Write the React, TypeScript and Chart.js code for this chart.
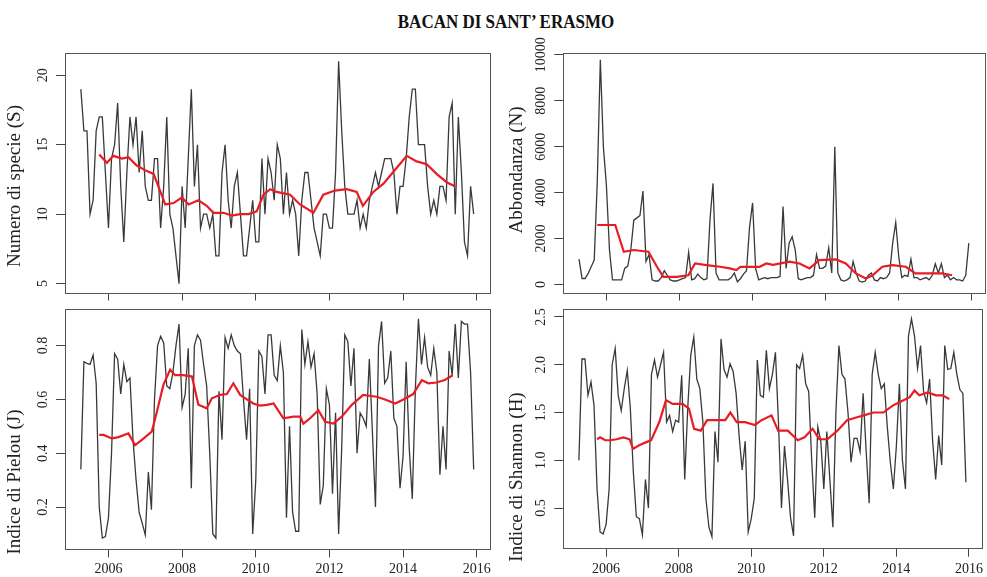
import React, { useEffect, useRef } from "react";
import { Chart, registerables } from "chart.js";

Chart.register(...registerables);

// Monthly samples, April 2005 .. December 2015
const FIRST_YEAR = 2005;
const FIRST_MONTH = 4;
const YEAR_TICKS = [2006, 2008, 2010, 2012, 2014, 2016];

const speciesS = [
  19, 16, 16, 10, 11, 16, 17, 17, 13, 9, 14, 15, 18, 12, 8, 13, 17, 15, 17, 13,
  16, 12, 11, 11, 14, 14, 9, 12, 17, 10, 9, 7, 5, 12, 9, 14, 19, 12, 15, 9,
  10, 10, 9, 10, 7, 7, 13, 15, 11, 9, 12, 13, 10, 7, 7, 9, 11, 8, 8, 14,
  10, 14, 13, 11, 15, 14, 10, 13, 10, 11, 10, 7, 11, 13, 13, 11, 9, 8, 7, 10,
  10, 9, 9, 13, 21, 16, 12, 10, 10, 10, 11, 9, 10, 9, 11, 12, 13, 12, 13, 14,
  14, 14, 13, 10, 12, 12, 14, 17, 19, 19, 15, 15, 15, 12, 10, 11, 10, 12, 12, 11,
  17, 18, 10, 17, 13, 8, 7, 12, 10,
];

const abundanceN = [
  1100, 260, 260, 480, 770, 1060, 4500, 9785, 6000, 4300, 1500, 200, 200, 200, 200, 700, 800, 1500, 2800, 2900,
  3000, 4070, 1000, 1300, 200, 150, 150, 300, 600, 400, 200, 150, 150, 200, 250, 300, 1400, 200, 250, 450,
  300, 200, 250, 2800, 4400, 500, 200, 200, 200, 200, 300, 500, 120, 250, 450, 600, 2500, 3550, 700, 200,
  250, 300, 250, 300, 300, 300, 350, 3390, 700, 1800, 2080, 1500, 250, 200, 250, 300, 300, 400, 1300, 700,
  700, 800, 1600, 500, 6000, 500, 200, 150, 200, 300, 1000, 500, 150, 100, 150, 400, 500, 200, 150, 300,
  250, 300, 500, 1800, 2700, 1200, 300, 400, 350, 1100, 300, 300, 200, 250, 300, 200, 400, 900, 500, 900,
  300, 400, 200, 300, 200, 200, 150, 400, 1800,
];

const pielouJ = [
  0.34, 0.74, 0.734, 0.73, 0.765, 0.66, 0.2, 0.085, 0.09, 0.16, 0.4, 0.77, 0.75, 0.62, 0.73, 0.666, 0.68, 0.45, 0.3, 0.18,
  0.14, 0.096, 0.33, 0.19, 0.6, 0.8, 0.835, 0.81, 0.65, 0.64, 0.7, 0.8, 0.88, 0.57, 0.62, 0.79, 0.27, 0.8, 0.84, 0.82,
  0.73, 0.65, 0.4, 0.1, 0.085, 0.63, 0.45, 0.83, 0.79, 0.84, 0.8, 0.78, 0.77, 0.6, 0.45, 0.64, 0.1, 0.3, 0.78, 0.76,
  0.62, 0.84, 0.84, 0.69, 0.67, 0.8, 0.7, 0.16, 0.5, 0.18, 0.11, 0.11, 0.86, 0.73, 0.815, 0.72, 0.77, 0.62, 0.21, 0.28,
  0.64, 0.58, 0.25, 0.55, 0.1, 0.42, 0.84, 0.815, 0.65, 0.79, 0.4, 0.55, 0.53, 0.5, 0.75, 0.48, 0.2, 0.8, 0.89, 0.66,
  0.68, 0.78, 0.53, 0.5, 0.27, 0.39, 0.74, 0.42, 0.23, 0.64, 0.9, 0.73, 0.83, 0.72, 0.69, 0.79, 0.7, 0.32, 0.5, 0.34,
  0.78, 0.69, 0.88, 0.68, 0.89, 0.88, 0.88, 0.7, 0.34,
];

const shannonH = [
  1.0, 2.06, 2.06, 1.68, 1.82, 1.575, 0.7, 0.25, 0.23, 0.33, 0.7, 2.0, 2.17, 1.68, 1.52, 1.75, 1.94, 1.55, 0.88, 0.41,
  0.39, 0.22, 0.8, 0.5, 1.9, 2.05, 1.87, 2.0, 2.13, 1.4, 1.47, 1.3, 1.42, 1.4, 1.89, 0.8, 1.55, 2.1, 2.29, 1.85,
  1.75, 1.4, 0.6, 0.3, 0.2, 1.3, 0.98, 2.27, 1.95, 1.87, 2.01, 1.93, 1.7, 1.25, 0.9, 1.2, 0.25, 0.39, 0.6, 2.05,
  1.68, 1.66, 2.15, 1.75, 1.9, 2.13, 1.4, 0.5, 1.15, 0.8, 0.4, 0.21, 2.0, 1.96, 2.1, 1.8, 1.72, 1.0, 0.4, 1.35,
  1.2, 0.7, 1.3, 0.8, 0.3, 1.5, 2.2, 1.9, 1.85, 1.5, 0.98, 1.23, 1.23, 1.09, 1.7, 1.1, 0.55, 1.9, 2.13, 1.9,
  1.75, 1.8, 1.35, 0.98, 0.7, 1.15, 1.8, 1.0, 0.7, 2.3, 2.48, 2.3, 1.96, 2.2, 1.72, 1.6, 1.85, 1.2, 0.8, 1.26,
  0.95, 2.2, 1.95, 1.96, 2.13, 1.9, 1.74, 1.7, 0.77,
];

// Moving-average trends: [months after April 2005, value]
const trendS: [number, number][] = [
  [6, 14.3], [8.5, 13.7], [10.6, 14.2], [13.4, 14.0], [15.5, 14.1], [18.2, 13.5], [21.5, 13.1], [23.7, 12.9],
  [25.8, 11.7], [27.5, 10.7], [30.2, 10.8], [32.9, 11.2], [35.1, 10.7], [38.3, 11.0], [41, 10.6], [43.2, 10.1],
  [46.5, 10.1], [49.2, 9.9], [51.9, 10.0], [54.6, 10.0], [57.3, 10.2], [59.5, 11.4], [61.7, 11.8], [63.8, 11.6],
  [68.2, 11.4], [71.4, 10.7], [75.8, 10.1], [79, 11.4], [82.8, 11.7], [86.6, 11.8], [89.9, 11.6], [91.9, 10.6],
  [95.3, 11.6], [98.6, 12.2], [102.4, 13.2], [106.2, 14.2], [109.4, 13.8], [112.7, 13.6], [115.9, 12.9],
  [119.2, 12.3], [122, 12.0],
];

const trendN: [number, number][] = [
  [6, 2590], [11.9, 2590], [14.7, 1425], [17.9, 1500], [22.8, 1425], [25.6, 770], [27.7, 330], [32.1, 330],
  [35.9, 400], [38.1, 915], [41.9, 840], [46.3, 770], [49.5, 700], [51.7, 625], [53, 770], [59.3, 770],
  [61.5, 915], [63.7, 850], [69.1, 990], [72.4, 915], [75.7, 700], [78.9, 1060], [84.4, 1090], [87.6, 915],
  [90.9, 480], [94.2, 260], [96.4, 400], [99.6, 770], [102.9, 840], [107.3, 770], [110.5, 480], [114.9, 480],
  [119.2, 480], [122.5, 400],
];

const trendJ: [number, number][] = [
  [6, 0.468], [7.4, 0.468], [10.1, 0.455], [12.3, 0.46], [15.5, 0.474], [17.7, 0.43], [19.9, 0.45], [23.1, 0.48],
  [24.8, 0.555], [26.9, 0.654], [29.1, 0.71], [30.7, 0.69], [33.4, 0.69], [36.2, 0.685], [38.3, 0.58], [41, 0.567],
  [42.7, 0.604], [45.4, 0.617], [47.6, 0.62], [49.7, 0.66], [51.9, 0.617], [54.1, 0.6], [56.2, 0.585], [58.4, 0.577],
  [60.6, 0.58], [62.8, 0.585], [66, 0.53], [69.3, 0.536], [71.5, 0.536], [72.5, 0.51], [74.7, 0.53], [77.4, 0.56],
  [79.6, 0.517], [82.3, 0.51], [85, 0.536], [88.3, 0.58], [92, 0.617], [96.4, 0.61], [99.1, 0.6], [102.4, 0.585],
  [105.1, 0.6], [108.3, 0.62], [111.1, 0.672], [113.2, 0.66], [115.9, 0.663], [118.6, 0.672], [121.2, 0.69],
];

const trendH: [number, number][] = [
  [6, 1.22], [7, 1.24], [8.7, 1.21], [10.3, 1.21], [12.5, 1.22], [14.7, 1.24], [16.8, 1.22], [17.9, 1.12],
  [20.1, 1.16], [22.3, 1.19], [23.9, 1.21], [26.6, 1.4], [28.8, 1.63], [31, 1.59], [34.3, 1.59], [36.4, 1.54],
  [38.1, 1.33], [40.3, 1.31], [42.4, 1.42], [46.2, 1.42], [48.4, 1.42], [50.1, 1.5], [52.2, 1.4], [55, 1.4],
  [58.2, 1.37], [60.4, 1.42], [63.7, 1.47], [65.9, 1.31], [69.1, 1.31], [72.4, 1.21], [74.6, 1.24], [77.3, 1.33],
  [79.5, 1.22], [82.2, 1.22], [85.5, 1.31], [88.7, 1.42], [92, 1.45], [94.2, 1.47], [97.4, 1.5], [100.7, 1.5],
  [103.9, 1.575], [106.2, 1.61], [109.4, 1.66], [111, 1.73], [112.6, 1.68], [115.4, 1.71], [118.1, 1.68],
  [120.3, 1.68], [122.5, 1.64],
];

const ticksS = [5, 10, 15, 20];
const ticksN = [0, 2000, 4000, 6000, 8000, 10000];
const ticksJ = [0.2, 0.4, 0.6, 0.8];
const ticksH = [0.5, 1.0, 1.5, 2.0, 2.5];

const monthToYear = (m: number) => FIRST_YEAR + (FIRST_MONTH - 1 + m) / 12;

const SERIF = "'Liberation Serif', 'Times New Roman', serif";

type Panel = {
  left: number;
  top: number;
  width: number;
  height: number;
  padTop: number;
  padRight: number;
  yAxisWidth: number;
  xAxisHeight: number;
  yMin: number;
  yMax: number;
  yTicks: number[];
  yDecimals: number;
  values: number[];
  trend: [number, number][];
  title: string;
  titleX: number;
  titleY: number;
  showYears: boolean;
};

const framePlugin = {
  id: "frame",
  afterDraw(chart: any, _args: any, opts: any) {
    const { ctx, chartArea } = chart;
    const yScale = chart.scales.y;
    ctx.save();
    // box around the plotting region
    ctx.strokeStyle = "#555";
    ctx.lineWidth = 1;
    ctx.strokeRect(
      Math.round(chartArea.left) + 0.5,
      Math.round(chartArea.top) + 0.5,
      Math.round(chartArea.right - chartArea.left),
      Math.round(chartArea.bottom - chartArea.top)
    );
    // vertical tick labels on the y axis
    ctx.fillStyle = "#222";
    ctx.font = `14px ${SERIF}`;
    ctx.textAlign = "center";
    ctx.textBaseline = "middle";
    for (const t of yScale.ticks) {
      const py = yScale.getPixelForValue(t.value);
      ctx.save();
      ctx.translate(chartArea.left - 22, py);
      ctx.rotate(-Math.PI / 2);
      ctx.fillText(Number(t.value).toFixed(opts.decimals), 0, 0);
      ctx.restore();
    }
    // axis title
    ctx.font = `19px ${SERIF}`;
    ctx.save();
    ctx.translate(opts.titleX, opts.titleY);
    ctx.rotate(-Math.PI / 2);
    ctx.fillText(opts.title, 0, 0);
    ctx.restore();
    ctx.restore();
  },
};

function PanelChart({ p }: { p: Panel }) {
  const ref = useRef<HTMLCanvasElement | null>(null);

  useEffect(() => {
    if (!ref.current) return;
    const black = p.values.map((v, i) => ({ x: monthToYear(i), y: v }));
    const red = p.trend.map(([m, v]) => ({ x: monthToYear(m), y: v }));
    const chart = new Chart(ref.current, {
      type: "line",
      data: {
        datasets: [
          {
            data: red,
            borderColor: "rgb(232, 28, 36)",
            borderWidth: 2.2,
            pointRadius: 0,
            tension: 0,
          },
          {
            data: black,
            borderColor: "rgba(35, 35, 35, 0.9)",
            borderWidth: 1.3,
            pointRadius: 0,
            tension: 0,
          },
        ],
      },
      options: {
        animation: false,
        responsive: false,
        devicePixelRatio: 1,
        events: [],
        layout: { padding: { top: p.padTop, right: p.padRight, left: 0, bottom: 0 } },
        plugins: {
          legend: { display: false },
          tooltip: { enabled: false },
          frame: {
            title: p.title,
            titleX: p.titleX - p.left,
            titleY: p.titleY - p.top,
            decimals: p.yDecimals,
          },
        } as any,
        scales: {
          x: {
            type: "linear",
            min: 2004.82,
            max: 2016.36,
            afterBuildTicks: (s: any) => {
              s.ticks = YEAR_TICKS.map((v) => ({ value: v }));
            },
            afterFit: (s: any) => {
              s.height = p.xAxisHeight;
            },
            grid: { drawOnChartArea: false, drawTicks: true, tickLength: 8, color: "#444" },
            border: { display: false },
            ticks: {
              display: p.showYears,
              autoSkip: false,
              maxRotation: 0,
              padding: 4,
              color: "#222",
              font: { family: SERIF, size: 14 },
              callback: (v: any) => String(v),
            },
          },
          y: {
            type: "linear",
            min: p.yMin,
            max: p.yMax,
            afterBuildTicks: (s: any) => {
              s.ticks = p.yTicks.map((v) => ({ value: v }));
            },
            afterFit: (s: any) => {
              s.width = p.yAxisWidth;
            },
            grid: { drawOnChartArea: false, drawTicks: true, tickLength: 9, color: "#444" },
            border: { display: false },
            ticks: { display: false },
          },
        },
      },
      plugins: [framePlugin],
    } as any);
    return () => chart.destroy();
  }, [p]);

  return (
    <canvas
      ref={ref}
      width={p.width}
      height={p.height}
      style={{ position: "absolute", left: p.left, top: p.top, width: p.width, height: p.height }}
    />
  );
}

const panels: Panel[] = [
  {
    left: 0, top: 30, width: 505, height: 275, padTop: 22.5, padRight: 15,
    yAxisWidth: 65, xAxisHeight: 12.5, yMin: 4.36, yMax: 21.64, yTicks: ticksS, yDecimals: 0,
    values: speciesS, trend: trendS, title: "Numero di specie (S)", titleX: 15, titleY: 186, showYears: false,
  },
  {
    left: 500, top: 30, width: 487, height: 275, padTop: 22.5, padRight: 2,
    yAxisWidth: 63.3, xAxisHeight: 12.5, yMin: -350, yMax: 10100, yTicks: ticksN, yDecimals: 0,
    values: abundanceN, trend: trendN, title: "Abbondanza (N)", titleX: 517, titleY: 170, showYears: false,
  },
  {
    left: 0, top: 300, width: 505, height: 277, padTop: 9.3, padRight: 15,
    yAxisWidth: 65, xAxisHeight: 27.7, yMin: 0.043, yMax: 0.935, yTicks: ticksJ, yDecimals: 1,
    values: pielouJ, trend: trendJ, title: "Indice di Pielou (J)", titleX: 15, titleY: 482, showYears: true,
  },
  {
    left: 500, top: 300, width: 487, height: 277, padTop: 9.3, padRight: 2,
    yAxisWidth: 63.3, xAxisHeight: 28.3, yMin: 0.075, yMax: 2.58, yTicks: ticksH, yDecimals: 1,
    values: shannonH, trend: trendH, title: "Indice di Shannon (H)", titleX: 517, titleY: 477, showYears: true,
  },
];

export default function App() {
  return (
    <div
      style={{
        position: "absolute",
        left: 0,
        top: 0,
        width: 987,
        height: 577,
        background: "#fff",
        overflow: "hidden",
      }}
    >
      <div
        style={{
          position: "absolute",
          left: 256,
          top: 12,
          width: 500,
          textAlign: "center",
          fontFamily: SERIF,
          fontWeight: "bold",
          fontSize: 17,
          lineHeight: "20px",
          color: "#111",
          transform: "scaleY(1.15)",
        }}
      >
        BACAN DI SANT’ ERASMO
      </div>
      {panels.map((p, i) => (
        <PanelChart key={i} p={p} />
      ))}
    </div>
  );
}
